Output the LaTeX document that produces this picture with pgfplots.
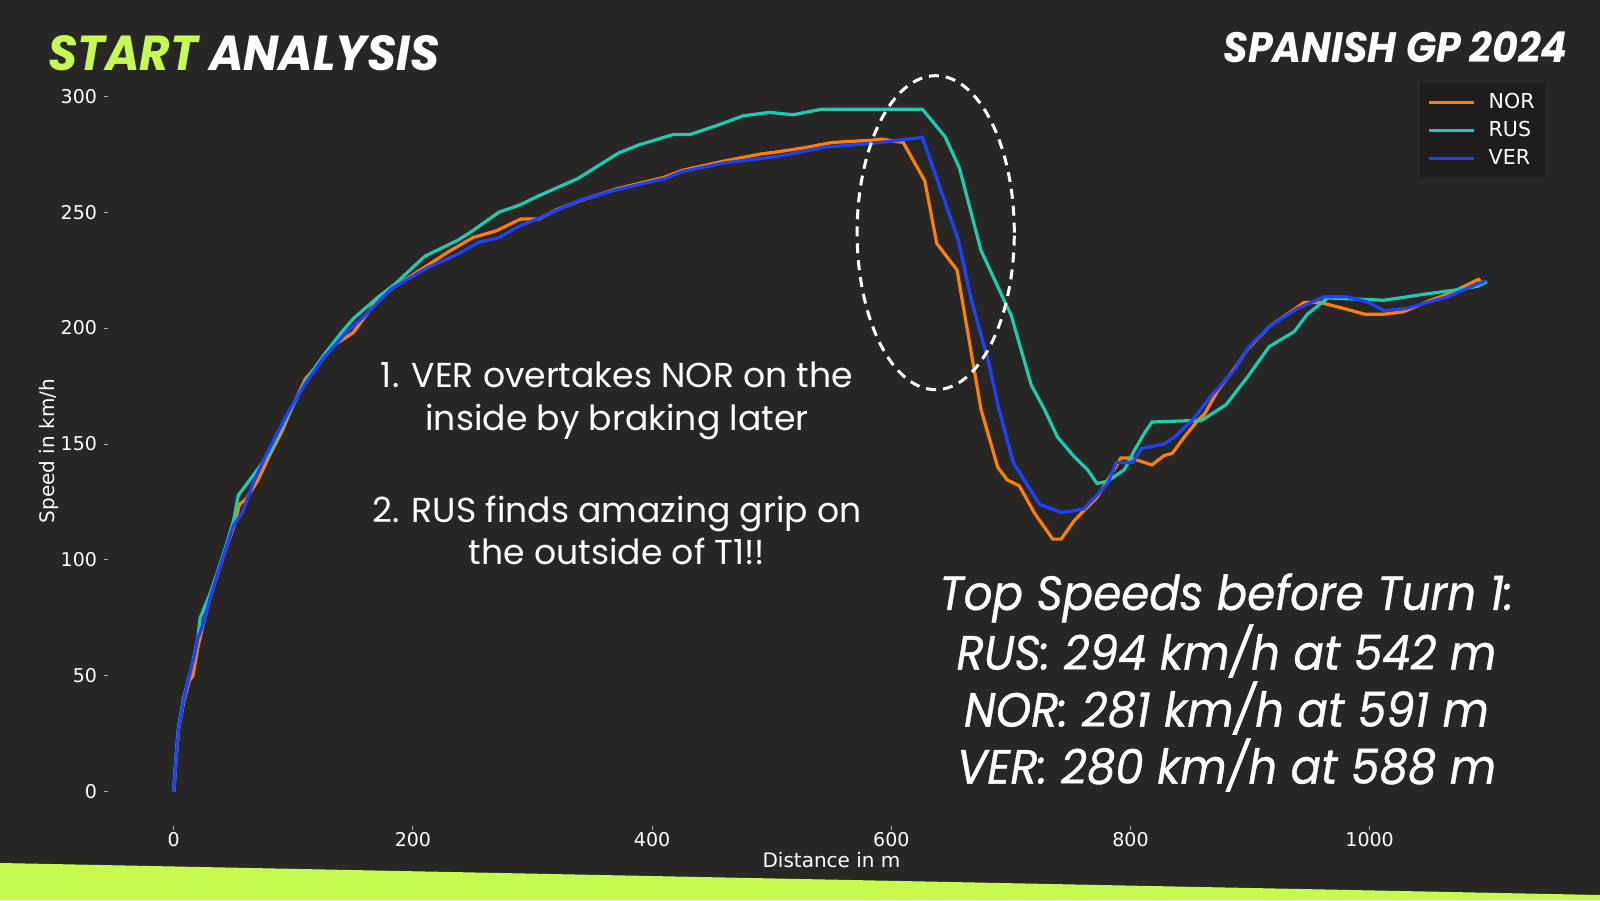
\documentclass[border=0pt]{standalone}
\usepackage{fontspec}
\usepackage{pgfplots}
\pgfplotsset{compat=1.18}
\setmainfont{DejaVu Sans}
\newfontfamily\pop{Poppins}
\newfontfamily\popmed{Poppins}[FakeBold=0.7]
\definecolor{bg}{HTML}{292626}
\definecolor{legbg}{HTML}{1E1C1C}
\definecolor{lime}{HTML}{C6FA50}
\definecolor{nor}{HTML}{FF8000}
\definecolor{rus}{HTML}{1CCCAE}
\definecolor{ver}{HTML}{1E41FF}
\begin{document}
\begin{tikzpicture}[x=0.5pt,y=0.5pt]
\fill[bg] (0,0) rectangle (1600,900);
\fill[lime] (0,0) -- (0,37) -- (1600,5) -- (1600,0) -- cycle;
\begin{axis}[
  at={(54pt,37pt)}, anchor=south west,
  scale only axis, width=723.5pt, height=375pt,
  xmin=-55, xmax=1155, ymin=-14.7, ymax=308.7,
  axis line style={draw=none},
  xtick={0,200,400,600,800,1000},
  ytick={0,50,100,150,200,250,300},
  xtick pos=left, ytick pos=left, tick align=outside,
  major tick length=2pt,
  tick style={color=white!70!black, line width=0.5pt},
  ticklabel style={font=\fontsize{9.5}{10}\selectfont, text=white},
  xticklabel style={yshift=2.5pt},
  /pgf/number format/assume math mode=true,
  /pgf/number format/1000 sep={},
  xlabel={Distance in m}, ylabel={Speed in km/h},
  label style={font=\fontsize{10}{12}\selectfont, text=white},
  xlabel style={at={(axis description cs:0.5,-0.0453)}, anchor=center},
  ylabel style={at={(axis description cs:-0.041,0.5)}, anchor=center},
  legend cell align=left,
  legend style={at={(1,1)}, anchor=north east, xshift=-5pt, yshift=-3.5pt,
    fill=legbg, draw=none, text=white, font=\fontsize{10.3}{12}\selectfont,
    row sep=0.8pt, inner xsep=3pt, inner ysep=3pt},
  legend image code/.code={\draw[#1] (0pt,0pt) -- (22.5pt,0pt); \path[draw=none] (-1.5pt,0pt) -- (28pt,0pt);},
]
\addplot[color=nor, line width=1.6pt] coordinates {
(0,0) (2,15) (4,27) (8,38) (13,48) (16,50) (20,62) (25,73) (30,83) (36,93)
(43,104) (50,114) (55,124) (60,126) (70,134) (80,145) (90,155) (100,167)
(110,178) (120,184) (135,193) (150,198) (160,205) (170,212) (185,218)
(200,223) (215,228) (230,233) (250,239) (270,242) (290,247) (305,247)
(320,251) (340,255) (370,260) (410,265) (425,268) (460,272) (490,275)
(505,276) (530,278) (550,280) (583,281) (592,281.5) (610,280) (628,263.5)
(638,236.5) (655,225) (675,165) (689,140) (697,134.5) (707,132) (720,120)
(735,109) (742,109) (753,117) (772,127) (784,137) (792,144) (800,144)
(818,141) (828,145) (835,146) (845,153) (856,160) (862,163) (873,173)
(889,184) (898,191) (917,201) (934,207) (945,211) (959,211) (978,208.5)
(996,206) (1012,206) (1028,207) (1051,212) (1067,215) (1091,221) (1095,219)
};
\addlegendentry{NOR}
\addplot[color=rus, line width=1.6pt] coordinates {
(0,0) (2,16) (4,28) (8,40) (13,50) (16,56) (20,66) (22,75) (30,85) (36,94)
(43,105) (50,117) (54,128) (60,132) (70,139) (80,146) (90,157) (100,167)
(110,177) (125,188) (140,198) (150,204) (170,213) (185,219) (210,231)
(238,238) (250,242) (272,250) (289,253) (305,257) (338,264.5) (372,275.5)
(389,279) (418,283.5) (432,283.5) (455,287.5) (476,291.5) (498,293)
(518,292) (542,294.4) (626,294.4) (645,282.5) (657,269) (675,233.5)
(697,209) (700,206) (717,175.5) (728,165) (739,153) (753,144.5) (764,139)
(772,133) (781,134) (795,139) (803,147) (812,155) (818,159.5) (845,160)
(859,160) (880,167) (898,179) (916,192) (937,198.5) (948,206) (965,213)
(1012,212) (1051,215) (1073,216.5) (1090,218) (1098,220)
};
\addlegendentry{RUS}
\addplot[color=ver, line width=1.6pt] coordinates {
(0,0) (2,15) (4,27) (8,39) (13,50) (17,58) (20,66) (25,73) (30,83) (36,93)
(43,104) (50,115) (57,120) (67,134) (77,145) (88,156) (97,165) (110,176)
(125,187) (144,198) (161,206) (182,217) (212,226) (238,232) (255,237)
(272,239) (289,244) (306,247.5) (339,255) (369,259.5) (411,264.5)
(425,267.5) (461,271.3) (505,274) (544,278) (583,279.6) (626,282.2)
(656,238) (667,212) (681,186) (690,165) (702,142) (724,124) (742,120.5)
(750,121) (761,122) (781,133) (788,142) (802,142) (809,148) (828,150)
(837,153) (853,161) (867,170.5) (887,182) (899,192) (917,201) (940,208.5)
(962,213.5) (981,213.5) (998,211.3) (1012,207.5) (1031,208.5)
(1065,213.5) (1097,220.5)
};
\addlegendentry{VER}
\end{axis}
\draw[white, line width=1.5pt, dash pattern=on 5pt off 3.5pt] (935.7,667.3) ellipse [x radius=78.6, y radius=157];
\node[anchor=base west, inner sep=0pt] at (48,829) {\resizebox{195.5pt}{17.5pt}{\pop\bfseries\itshape\color{lime}START \color{white}ANALYSIS}};
\node[anchor=base east, inner sep=0pt] at (1568,837) {\resizebox{172pt}{15.5pt}{\pop\bfseries\itshape\color{white}SPANISH GP 2024}};
\node[text=white, align=center, font=\pop\fontsize{17.3}{21.25}\selectfont] at (617,499) {1. VER overtakes NOR on the\\inside by braking later};
\node[text=white, align=center, font=\pop\fontsize{17.3}{21.25}\selectfont] at (617,369.5) {2. RUS finds amazing grip on\\the outside of T1!!};
\node[text=white, align=center, font=\popmed\itshape\fontsize{24}{28.5}\selectfont] at (1226.5,217.5) {\scalebox{0.94}[1]{Top Speeds before Turn 1:}\\\scalebox{0.94}[1]{RUS: 294 km/h at 542 m}\\\scalebox{0.94}[1]{NOR: 281 km/h at 591 m}\\\scalebox{0.94}[1]{VER: 280 km/h at 588 m}};
\pgfresetboundingbox
\useasboundingbox (0,0) rectangle (1600,900);
\end{tikzpicture}
\end{document}
